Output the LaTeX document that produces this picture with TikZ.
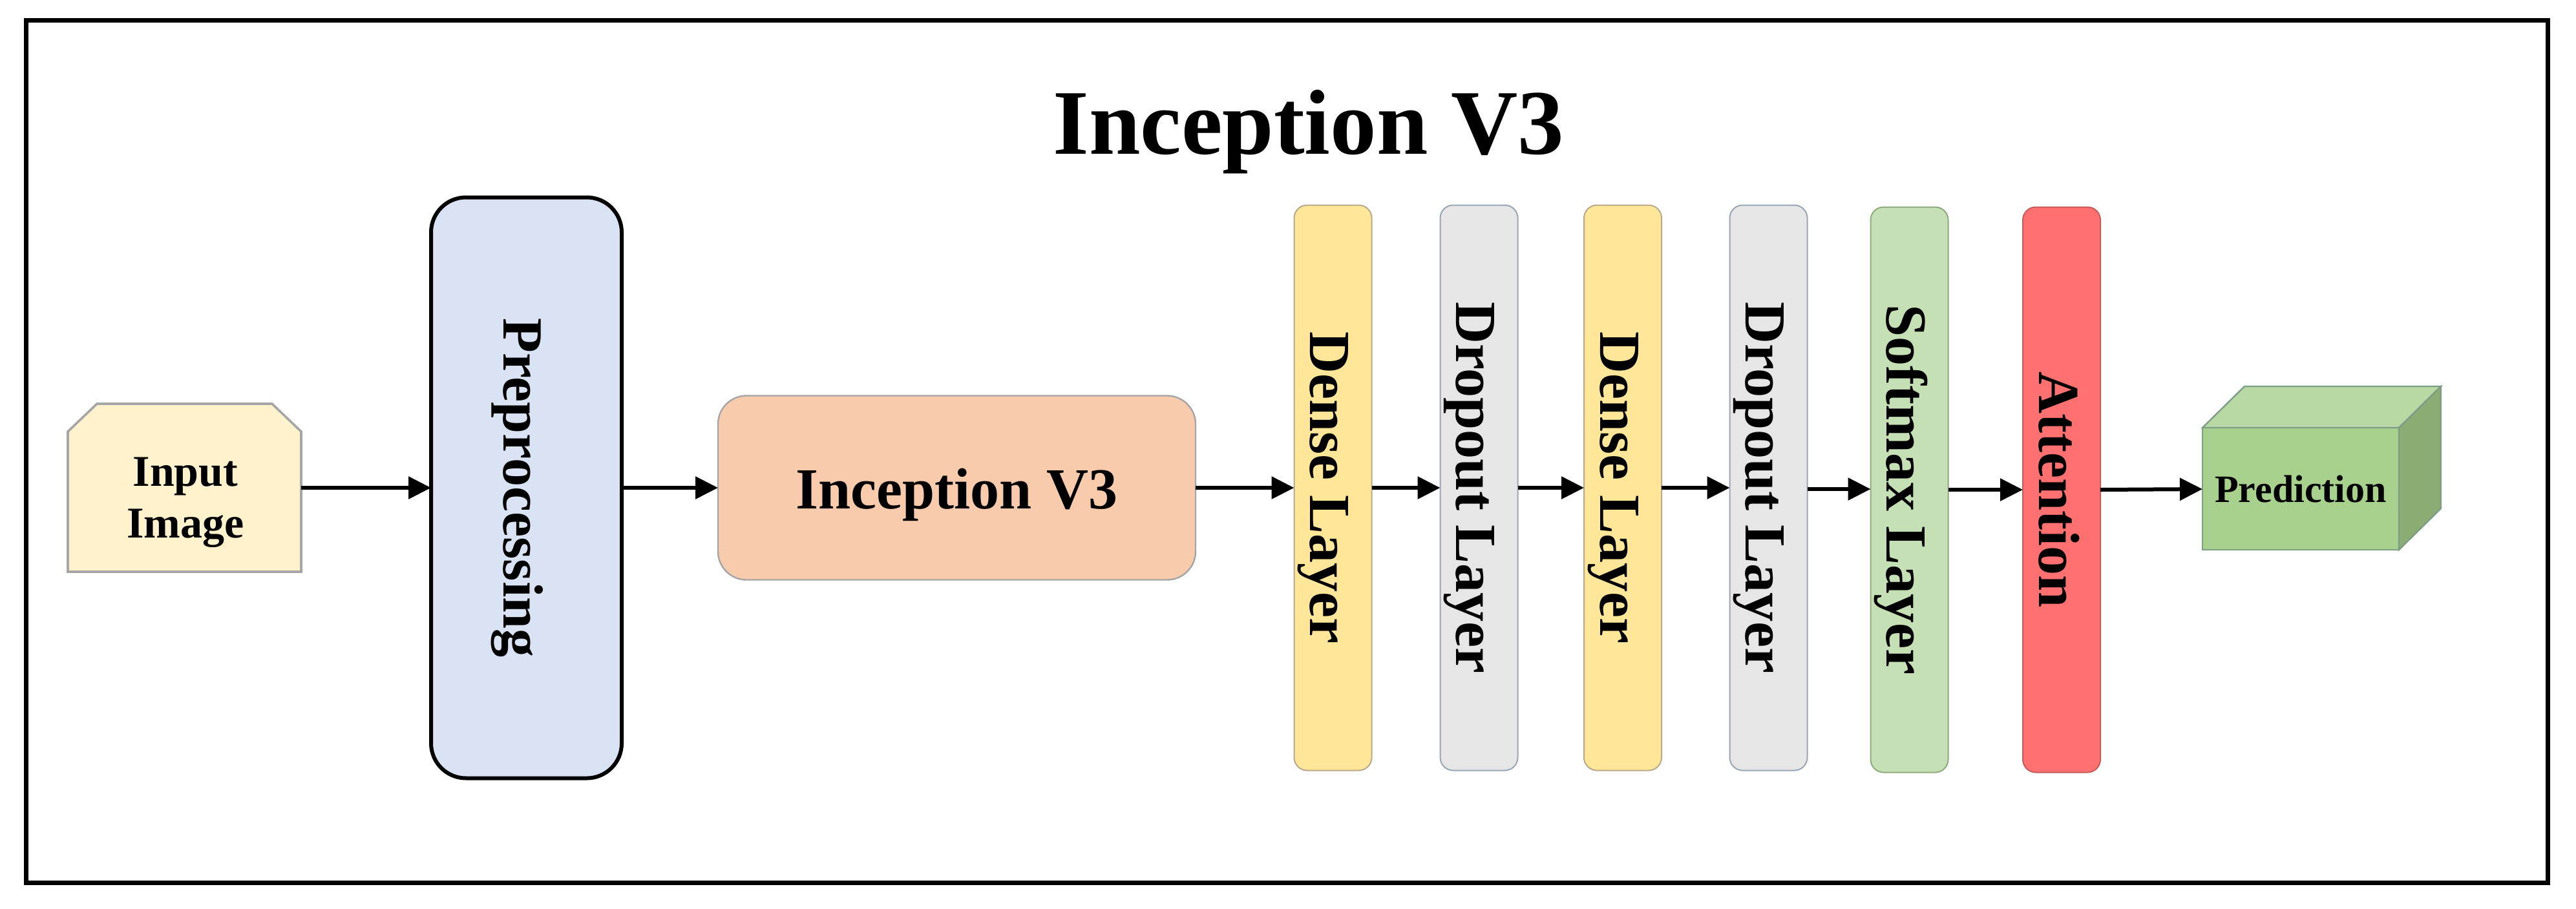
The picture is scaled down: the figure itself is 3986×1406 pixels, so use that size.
\documentclass[tikz,border=0pt]{standalone}
\usepackage{fontspec}
\setmainfont{Liberation Serif}
\usepackage{graphicx}
\usetikzlibrary{arrows.meta}
\definecolor{inpfill}{HTML}{FFF2CC}
\definecolor{inpdraw}{HTML}{A6A6A6}
\definecolor{prefill}{HTML}{DAE3F3}
\definecolor{incfill}{HTML}{F8CBAD}
\definecolor{incdraw}{HTML}{A5A5A5}
\definecolor{densefill}{HTML}{FFE699}
\definecolor{densedraw}{HTML}{B8A98A}
\definecolor{dropfill}{HTML}{E7E6E6}
\definecolor{dropdraw}{HTML}{9AA6B4}
\definecolor{softfill}{HTML}{C5E0B4}
\definecolor{softdraw}{HTML}{8FAA7C}
\definecolor{attfill}{HTML}{FF7171}
\definecolor{attdraw}{HTML}{C85A5A}
\definecolor{predfront}{HTML}{A9D18E}
\definecolor{predtop}{HTML}{B9D9A4}
\definecolor{predside}{HTML}{8BAD73}
\definecolor{preddraw}{HTML}{7E9C86}
\newcommand{\vlab}[1]{\rotatebox{-90}{\raisebox{0pt}[20pt][2.5pt]{#1}}}
\tikzset{
  arr/.style={-{Triangle[length=8.75pt,width=8.5pt]}, line width=1.5pt, black},
  inpbox/.style={rectangle, minimum width=90.25pt, minimum height=65pt, inner sep=0pt, outer sep=0pt},
  inpline/.style={fill=inpfill, draw=inpdraw, line width=0.9pt},
  inptext/.style={font=\bfseries\fontsize{17}{20}\selectfont, align=center, inner sep=0pt},
  prebox/.style={rectangle, rounded corners=13.5pt, fill=prefill, draw=black, line width=1.5pt,
    minimum width=73.75pt, minimum height=224.75pt, inner sep=0pt, outer sep=0pt,
    font=\bfseries\fontsize{22}{26}\selectfont},
  incbox/.style={rectangle, rounded corners=11pt, fill=incfill, draw=incdraw, line width=0.6pt,
    minimum width=184.75pt, minimum height=71.25pt, inner sep=0pt, outer sep=0pt,
    text height=20pt, text depth=3.75pt,
    font=\bfseries\fontsize{22.5}{27}\selectfont},
  layerbox/.style={rectangle, rounded corners=5pt, line width=0.5pt,
    minimum width=30pt, minimum height=218.75pt, inner sep=0pt, outer sep=0pt,
    font=\bfseries\fontsize{22.5}{27}\selectfont},
  densebox/.style={layerbox, fill=densefill, draw=densedraw},
  dropbox/.style={layerbox, fill=dropfill, draw=dropdraw},
  softbox/.style={layerbox, fill=softfill, draw=softdraw},
  attbox/.style={layerbox, fill=attfill, draw=attdraw},
  predbox/.style={rectangle, fill=predfront, draw=preddraw, line width=0.6pt,
    minimum width=76pt, minimum height=47.25pt, inner sep=0pt, outer sep=0pt,
    font=\bfseries\fontsize{15}{18}\selectfont},
  titletext/.style={font=\bfseries\fontsize{35.75}{42}\selectfont, inner sep=0pt},
  frame/.style={draw=black, line width=1.75pt}
}
\begin{document}
\begin{tikzpicture}[x=0.25pt, y=-0.25pt]
\useasboundingbox (0,0) rectangle (3986,1406);
\draw[frame] (40,31) rectangle (3942,1366);
\node[titletext, anchor=base] (title) at (2025,238) {Inception V3};
% input image
\node[inpbox] (inp) at (285.5,755) {};
\draw[inpline] (inp.south west) -- ([yshift=-43*0.25pt]inp.north west) -- ([xshift=45*0.25pt]inp.north west)
  -- ([xshift=-45*0.25pt]inp.north east) -- ([yshift=-43*0.25pt]inp.north east) -- (inp.south east) -- cycle;
\node[inptext] (inplabel) at (287,778) {Input\\Image};
% main blocks
\node[prebox] (pre) at (814.5,755) {\vlab{Preprocessing}};
\node[incbox] (inc) at (1480.5,755) {Inception V3};
\node[densebox] (d1) at (2062.5,755) {\vlab{Dense Layer}};
\node[dropbox] (p1) at (2288.5,755) {\vlab{Dropout Layer}};
\node[densebox] (d2) at (2511,755) {\vlab{Dense Layer}};
\node[dropbox] (p2) at (2736.5,755) {\vlab{Dropout Layer}};
\node[softbox] (sm) at (2954.5,758) {\vlab{Softmax Layer}};
\node[attbox] (att) at (3190,758) {\vlab{Attention}};
% prediction cube
\node[predbox] (pred) at (3560,756.5) {};
\draw[fill=predtop, draw=preddraw, line width=0.6pt] (pred.north west) -- ++(65,-64) -- ++(304,0) -- (pred.north east) -- cycle;
\draw[fill=predside, draw=preddraw, line width=0.6pt] (pred.north east) -- ++(65,-64) -- ++(0,189) -- (pred.south east) -- cycle;
\node[font=\bfseries\fontsize{15}{18}\selectfont, inner sep=0pt] (predlabel) at (pred.center) {Prediction};
% arrows
\draw[arr] (inp.east |- 0,755) -- (pre.west |- 0,755);
\draw[arr] (pre.east |- 0,755) -- (inc.west |- 0,755);
\draw[arr] (inc.east |- 0,755) -- (d1.west |- 0,755);
\draw[arr] (d1.east |- 0,755) -- (p1.west |- 0,755);
\draw[arr] (p1.east |- 0,755) -- (d2.west |- 0,755);
\draw[arr] (d2.east |- 0,755) -- (p2.west |- 0,755);
\draw[arr] (p2.east |- 0,757) -- (sm.west |- 0,757);
\draw[arr] (sm.east |- 0,758) -- (att.west |- 0,758);
\draw[arr] (att.east |- 0,758) -- (pred.west |- 0,757);
\end{tikzpicture}
\end{document}
